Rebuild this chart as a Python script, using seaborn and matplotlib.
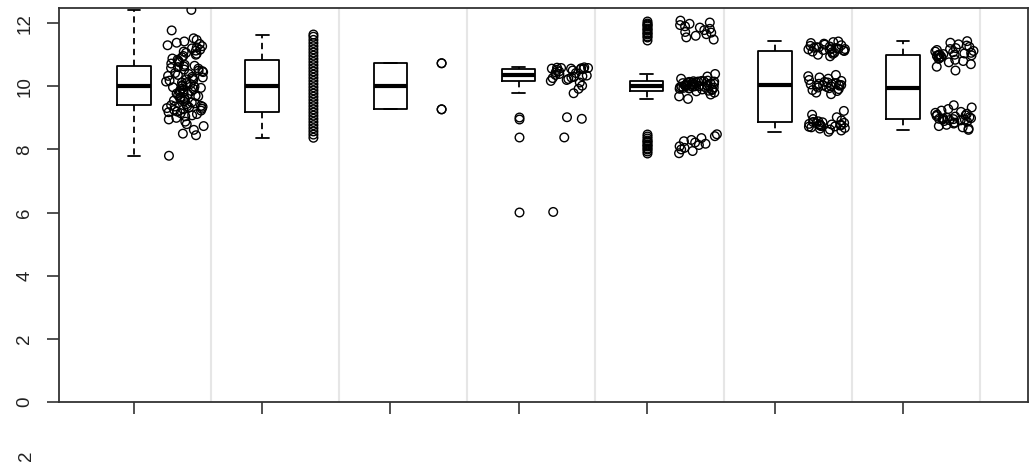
import numpy as np
import pandas as pd
import matplotlib
matplotlib.use("Agg")
import matplotlib.pyplot as plt
import seaborn as sns

# ---------------- data ----------------
group_positions = [1, 2, 3, 4, 5, 6, 7]

g1 = [7.80, 8.45, 8.50, 8.62, 8.74, 8.80, 8.88, 8.95, 9.00, 9.05, 9.08, 9.12, 9.15,
      9.18, 9.20, 9.23, 9.25, 9.27, 9.29, 9.31, 9.33, 9.35, 9.36, 9.37, 9.38,
      9.40, 9.43, 9.46, 9.49, 9.52, 9.55, 9.58, 9.60, 9.63, 9.65, 9.68, 9.70, 9.72,
      9.75, 9.77, 9.80, 9.82, 9.85, 9.87, 9.89, 9.91, 9.93, 9.95, 9.97, 9.99,
      10.01, 10.04, 10.07, 10.10, 10.12, 10.15, 10.18, 10.20, 10.22, 10.25, 10.28,
      10.30, 10.33, 10.36, 10.39, 10.42, 10.45, 10.48, 10.50, 10.53, 10.56, 10.58,
      10.61, 10.63, 10.65,
      10.68, 10.72, 10.76, 10.80, 10.84, 10.88, 10.92, 10.96, 11.00, 11.03, 11.06,
      11.10, 11.13, 11.16, 11.20, 11.23, 11.27, 11.30, 11.34, 11.38, 11.42, 11.47,
      11.52, 11.77, 12.42]

g2 = [8.37, 8.47, 8.57, 8.67, 8.77, 8.87, 8.97, 9.07, 9.17, 9.27, 9.37, 9.47,
      9.57, 9.67, 9.77, 9.87, 9.97, 10.07, 10.17, 10.27, 10.37, 10.47, 10.57,
      10.67, 10.77, 10.87, 10.97, 11.07, 11.17, 11.27, 11.37, 11.47, 11.57, 11.64]

g3 = [9.27, 9.27, 10.73, 10.73]

g4 = [6.02, 8.38, 8.97, 9.02, 9.78, 9.92, 10.02, 10.12,
      10.17, 10.20, 10.23, 10.26, 10.28, 10.30, 10.32, 10.34,
      10.36, 10.39, 10.42, 10.44, 10.47, 10.50, 10.52, 10.54,
      10.55, 10.56, 10.56, 10.57, 10.58, 10.58, 10.59, 10.60]

g5 = [11.48, 11.55, 11.60, 11.65, 11.70, 11.72, 11.78, 11.82, 11.86, 11.90,
      11.94, 11.98, 12.02, 12.08,
      7.88, 7.95, 8.00, 8.05, 8.10, 8.14, 8.18, 8.22, 8.26, 8.30, 8.36, 8.42, 8.48,
      9.60, 9.68, 9.74, 9.80, 9.84, 9.86, 9.88, 9.90, 9.91, 9.92, 9.93, 9.94, 9.95,
      9.96, 9.97, 9.98, 9.99, 9.99, 10.00, 10.00, 10.00, 10.01, 10.01, 10.02, 10.03,
      10.04, 10.05, 10.06, 10.07, 10.08, 10.09, 10.10, 10.11, 10.12, 10.13, 10.14,
      10.15, 10.15, 10.16, 10.16, 10.17, 10.18, 10.24, 10.31, 10.39]

g6 = [10.95, 11.00, 11.03, 11.06, 11.08, 11.10, 11.12, 11.13, 11.15, 11.16, 11.17,
      11.18, 11.19, 11.20, 11.21, 11.22, 11.23, 11.24, 11.26, 11.28, 11.30, 11.32,
      11.35, 11.37, 11.40, 11.42,
      9.75, 9.80, 9.85, 9.88, 9.91, 9.94, 9.96, 9.98, 10.00, 10.01, 10.02, 10.03,
      10.04, 10.05, 10.06, 10.07, 10.08, 10.10, 10.12, 10.14, 10.17, 10.20, 10.24,
      10.28, 10.32, 10.36,
      8.56, 8.60, 8.63, 8.66, 8.68, 8.70, 8.72, 8.73, 8.74, 8.75, 8.76, 8.77, 8.78,
      8.79, 8.80, 8.81, 8.83, 8.84, 8.86, 8.87, 8.89, 8.92, 8.96, 9.02, 9.10, 9.22]

g7 = [10.50, 10.62, 10.70, 10.76, 10.80, 10.84, 10.87, 10.90, 10.92, 10.94, 10.96,
      10.97, 10.98, 10.99, 11.00, 11.01, 11.02, 11.04, 11.06, 11.08, 11.10, 11.12,
      11.15, 11.18, 11.21, 11.25, 11.29, 11.33, 11.38, 11.43,
      8.62, 8.66, 8.70, 8.74, 8.78, 8.82, 8.85, 8.88, 8.90, 8.92, 8.93, 8.94, 8.95,
      8.96, 8.97, 8.98, 8.99, 9.00, 9.02, 9.04, 9.06, 9.08, 9.10, 9.13, 9.16, 9.19,
      9.23, 9.28, 9.33, 9.40]

groups = [g1, g2, g3, g4, g5, g6, g7]
jittered_groups = [1, 4, 5, 6, 7]        # groups whose points are spread sideways
y_ticks = [0, 2, 4, 6, 8, 10, 12]
y_tick_labels = ["0", "2", "4", "6", "8", "10", "12"]
lower_panel_label = "2"

# ---------------- layout / style ----------------
strip_offset = 0.4
sep_offset = 0.6

rows = []
for pos, vals in zip(group_positions, groups):
    for v in vals:
        rows.append({"pos": pos, "spos": pos + strip_offset, "value": v})
df = pd.DataFrame(rows)

sns.set_style("ticks")
plt.rcParams["font.family"] = ["Liberation Sans", "DejaVu Sans"]

np.random.seed(7)
fig = plt.figure(figsize=(10.35, 4.70), dpi=100)
ax = fig.add_axes([59 / 1035, 68 / 470, 969 / 1035, 394 / 470])

sns.boxplot(
    data=df, x="pos", y="value", orient="x", native_scale=True,
    width=0.26, fill=False, color="black", saturation=1, linewidth=1.3,
    whiskerprops=dict(linestyle=(0, (3.5, 2.5))),
    medianprops=dict(linewidth=3.0),
    flierprops=dict(marker="o", markerfacecolor="none", markeredgecolor="black",
                    markersize=6.2, markeredgewidth=1.0),
    capwidths=0.1, ax=ax,
)

jit = df[df["pos"].isin(jittered_groups)]
fixed = df[~df["pos"].isin(jittered_groups)]
sns.stripplot(data=jit, x="spos", y="value", orient="x", native_scale=True,
              jitter=0.15, size=6.2, color="black", facecolor="none",
              edgecolor="black", linewidth=1.0, ax=ax)
sns.stripplot(data=fixed, x="spos", y="value", orient="x", native_scale=True,
              jitter=False, size=6.2, color="black", facecolor="none",
              edgecolor="black", linewidth=1.0, ax=ax)
for coll in ax.collections:
    coll.set_facecolor("none")

ax.set_xlim(0.415, 7.975)
ax.set_ylim(0, 12.48)
ax.set_xticks(group_positions)
ax.set_xticklabels([""] * len(group_positions))
ax.set_xticks([p + sep_offset for p in group_positions], minor=True)
ax.grid(which="minor", axis="x", color="#e6e6e6", linewidth=1.5)
ax.grid(which="major", visible=False)
ax.tick_params(axis="x", which="minor", length=0)
ax.set_yticks(y_ticks)
ax.set_yticklabels(y_tick_labels, rotation=90, va="center")
ax.tick_params(axis="both", which="major", direction="out", length=8.5, width=1.2,
               color="#333333", labelcolor="#222222", labelsize=13.5)
ax.tick_params(axis="y", pad=10)
ax.set_xlabel("")
ax.set_ylabel("")
for sp in ax.spines.values():
    sp.set_visible(True)
    sp.set_color("#333333")
    sp.set_linewidth(1.3)

fig.text(27 / 1035, 0.03, lower_panel_label, rotation=90, ha="center", va="center",
         fontsize=13.5, color="#222222")

fig.savefig("out.png", dpi=100, facecolor="white")
